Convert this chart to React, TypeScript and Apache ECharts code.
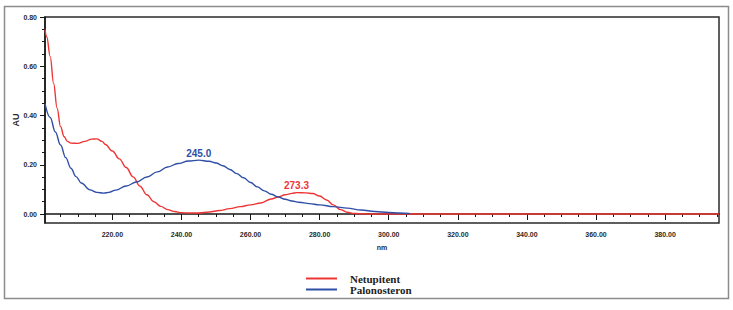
import React, { useEffect, useRef } from "react";
import * as echarts from "echarts";

// UV absorption spectra (wavelength in nm, absorbance in AU)
const netupitentNm = [
  200.5, 201.0, 202.0, 203.0, 204.0, 205.0, 206.0, 207.0, 208.0, 210.0, 212.0, 214.0,
  215.5, 217.0, 218.0, 220.0, 222.0, 224.0, 226.0, 228.0, 230.0, 232.0, 234.0, 236.0,
  238.0, 240.0, 242.0, 245.0, 248.0, 251.0, 254.0, 257.0, 260.0, 263.0, 266.0, 268.0,
  270.0, 272.0, 273.3, 276.0, 278.0, 280.0, 282.0, 284.0, 286.0, 288.0, 290.0, 294.0,
  300.0, 340.0, 395.6,
];
const netupitentAU = [
  0.75, 0.72, 0.64, 0.53, 0.43, 0.355, 0.315, 0.295, 0.288, 0.287, 0.295, 0.304,
  0.305, 0.295, 0.282, 0.256, 0.224, 0.189, 0.151, 0.113, 0.078, 0.05, 0.031, 0.018,
  0.01, 0.005, 0.004, 0.004, 0.008, 0.014, 0.022, 0.03, 0.037, 0.045, 0.061, 0.069,
  0.078, 0.084, 0.087, 0.086, 0.083, 0.073, 0.057, 0.037, 0.018, 0.007, 0.002, 0.0,
  0.0, 0.0, 0.0,
];

const palonosteronNm = [
  200.5, 202.0, 203.5, 205.0, 206.5, 208.0, 209.5, 211.0, 213.5, 215.5, 217.5, 219.0,
  221.0, 224.0, 227.0, 230.0, 233.0, 236.0, 239.0, 242.0, 245.0, 248.0, 250.0, 252.0,
  254.0, 256.0, 258.0, 260.0, 262.0, 264.0, 266.0, 268.0, 270.0, 272.0, 274.0, 277.0,
  280.0, 284.0, 288.0, 292.0, 296.0, 300.0, 303.0, 306.0,
];
const palonosteronAU = [
  0.448, 0.392, 0.333, 0.28, 0.229, 0.186, 0.152, 0.126, 0.098, 0.088, 0.085, 0.088,
  0.097, 0.114, 0.13, 0.15, 0.171, 0.191, 0.205, 0.215, 0.219, 0.214, 0.207, 0.196,
  0.181, 0.164, 0.147, 0.128, 0.11, 0.094, 0.08, 0.069, 0.06, 0.053, 0.048, 0.042,
  0.037, 0.03, 0.024, 0.016, 0.01, 0.006, 0.004, 0.002,
];

// Axis ticks and labels
const xMajorTicks = [220, 240, 260, 280, 300, 320, 340, 360, 380];
const xMinorTicks = [
  205, 210, 215, 220, 225, 230, 235, 240, 245, 250, 255, 260, 265, 270, 275, 280, 285,
  290, 295, 300, 305, 310, 315, 320, 325, 330, 335, 340, 345, 350, 355, 360, 365, 370,
  375, 380, 385, 390, 395,
];
const yMajorTicks = [0, 0.2, 0.4, 0.6, 0.8];
const yMinorTicks = [
  0, 0.05, 0.1, 0.15, 0.2, 0.25, 0.3, 0.35, 0.4, 0.45, 0.5, 0.55, 0.6, 0.65, 0.7, 0.75, 0.8,
];

// Peak maxima marked on the curves
const netupitentPeakNm = 273.3;
const palonosteronPeakNm = 245.0;

const RED = "#ee3535";
const BLUE = "#2f4fa6";
const AXIS = "#161616";

const X_MIN = 200.5;
const X_MAX = 395.6;
const Y_MIN = -0.0365;
const Y_MAX = 0.8;

const pairs = (xs: number[], ys: number[]) => xs.map((x, i) => [x, ys[i]]);
const valueAt = (xs: number[], ys: number[], x: number) => ys[xs.indexOf(x)];

const peakLabel = (color: string) => ({
  show: true,
  position: "top" as const,
  distance: 2,
  formatter: (p: any) => Number(p.value).toFixed(1),
  fontFamily: "Liberation Sans",
  fontSize: 10,
  fontWeight: "bold" as const,
  color,
});

export default function App() {
  const ref = useRef<HTMLDivElement>(null);

  useEffect(() => {
    if (!ref.current) return;
    const chart = echarts.init(ref.current, null, { renderer: "svg" });

    const tickLabel = {
      fontFamily: "Liberation Sans",
      fontSize: 7,
      fontWeight: "bold" as const,
      color: "#2a2a2a",
    };

    chart.setOption({
      animation: false,
      backgroundColor: "#ffffff",
      grid: {
        left: 45,
        right: 14,
        top: 17,
        bottom: 87,
        show: true,
        borderColor: "#2a2a2a",
        borderWidth: 1.5,
      },
      legend: {
        data: ["Netupitent", "Palonosteron"],
        orient: "vertical",
        left: 306,
        top: 273,
        padding: 0,
        icon: "rect",
        itemWidth: 31,
        itemHeight: 2,
        itemGap: 0,
        textStyle: {
          fontFamily: "Liberation Serif",
          fontWeight: "bold",
          fontSize: 11,
          color: "#222",
          lineHeight: 11,
          height: 11,
          padding: [0, 0, 0, 8],
        },
      },
      xAxis: [
        {
          type: "value",
          min: X_MIN,
          max: X_MAX,
          name: "nm",
          nameLocation: "middle",
          nameGap: 21,
          nameMoveOverlap: false,
          nameTextStyle: { ...tickLabel, fontSize: 7 },
          axisLine: { lineStyle: { color: AXIS, width: 1.5 } },
          axisTick: { customValues: xMinorTicks, length: 3, lineStyle: { color: AXIS, width: 1 } },
          axisLabel: {
            customValues: xMajorTicks,
            formatter: (v: number) => v.toFixed(2),
            margin: 8,
            ...tickLabel,
          },
          splitLine: { show: false },
        },
        {
          type: "value",
          min: X_MIN,
          max: X_MAX,
          position: "bottom",
          axisLine: { show: false },
          axisTick: { customValues: xMajorTicks, length: 6, lineStyle: { color: AXIS, width: 1 } },
          axisLabel: { show: false },
          splitLine: { show: false },
        },
      ],
      yAxis: [
        {
          type: "value",
          min: Y_MIN,
          max: Y_MAX,
          name: "AU",
          nameLocation: "middle",
          nameGap: 25,
          nameMoveOverlap: false,
          nameTextStyle: { ...tickLabel, fontSize: 9 },
          axisLine: { lineStyle: { color: AXIS, width: 1.5 } },
          axisTick: { customValues: yMinorTicks, length: 3, lineStyle: { color: AXIS, width: 1 } },
          axisLabel: {
            customValues: yMajorTicks,
            formatter: (v: number) => v.toFixed(2),
            margin: 8,
            ...tickLabel,
          },
          splitLine: { show: false },
        },
        {
          type: "value",
          min: Y_MIN,
          max: Y_MAX,
          position: "left",
          axisLine: { show: false },
          axisTick: { customValues: yMajorTicks, length: 5, lineStyle: { color: AXIS, width: 1 } },
          axisLabel: { show: false },
          splitLine: { show: false },
        },
      ],
      series: [
        {
          name: "Netupitent",
          type: "line",
          color: RED,
          data: pairs(netupitentNm, netupitentAU),
          symbol: "none",
          smooth: 0.4,
          smoothMonotone: "x",
          lineStyle: { width: 1.4, color: RED },
          markPoint: {
            symbol: "circle",
            symbolSize: 0,
            data: [
              {
                coord: [netupitentPeakNm, valueAt(netupitentNm, netupitentAU, netupitentPeakNm)],
                value: netupitentPeakNm,
              },
            ],
            label: peakLabel(RED),
          },
        },
        {
          name: "Palonosteron",
          type: "line",
          color: BLUE,
          data: pairs(palonosteronNm, palonosteronAU),
          symbol: "none",
          smooth: 0.4,
          smoothMonotone: "x",
          lineStyle: { width: 1.4, color: BLUE },
          markPoint: {
            symbol: "circle",
            symbolSize: 0,
            data: [
              {
                coord: [
                  palonosteronPeakNm,
                  valueAt(palonosteronNm, palonosteronAU, palonosteronPeakNm),
                ],
                value: palonosteronPeakNm,
              },
            ],
            label: peakLabel(BLUE),
          },
        },
      ],
      graphic: [
        {
          type: "rect",
          shape: { x: 4.5, y: 6.5, width: 724, height: 292 },
          style: { fill: "none", stroke: "#8c8c8c", lineWidth: 1.5 },
          silent: true,
        },
      ],
    });

    return () => chart.dispose();
  }, []);

  return (
    <div
      ref={ref}
      style={{ position: "fixed", left: 0, top: 0, width: 733, height: 310, background: "#fff" }}
    />
  );
}
